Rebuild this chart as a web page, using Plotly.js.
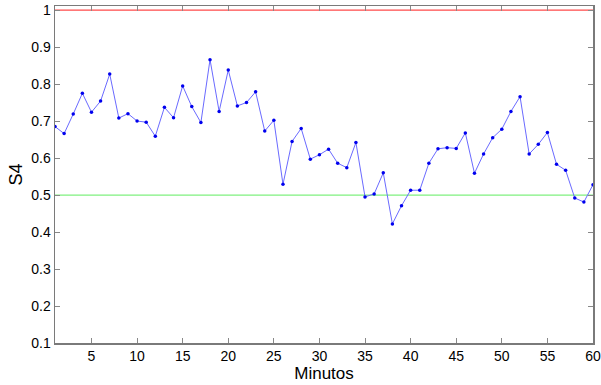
<!DOCTYPE html>
<html>
<head>
<meta charset="utf-8">
<script src="https://cdn.plot.ly/plotly-3.0.1.min.js"></script>
<style>
  html, body { margin: 0; padding: 0; background: #fff; }
  #chart { width: 601px; height: 385px; }
</style>
</head>
<body>
<div id="chart"></div>
<script>
// S4 scintillation index, one sample per minute
const minutos = [];
for (let m = 1; m <= 60; m++) minutos.push(m);

const s4 = [
  0.685, 0.666, 0.719, 0.775, 0.724, 0.754, 0.827, 0.708, 0.720, 0.700,
  0.697, 0.659, 0.737, 0.709, 0.795, 0.739, 0.696, 0.866, 0.726, 0.838,
  0.741, 0.750, 0.779, 0.673, 0.702, 0.529, 0.645, 0.680, 0.597, 0.609,
  0.624, 0.586, 0.574, 0.642, 0.495, 0.503, 0.560, 0.422, 0.471, 0.513,
  0.513, 0.586, 0.625, 0.628, 0.626, 0.668, 0.559, 0.611, 0.655, 0.678,
  0.726, 0.766, 0.611, 0.637, 0.669, 0.583, 0.567, 0.492, 0.481, 0.528
];

// reference thresholds
const limiteAlto = 1.0;
const limiteMedio = 0.5;

const xTicks = [5, 10, 15, 20, 25, 30, 35, 40, 45, 50, 55, 60];
const yTicks = [0.1, 0.2, 0.3, 0.4, 0.5, 0.6, 0.7, 0.8, 0.9, 1];
const yTickText = ['0.1', '0.2', '0.3', '0.4', '0.5', '0.6', '0.7', '0.8', '0.9', '1'];

const xMin = 1, xMax = 60;

const traces = [
  {
    x: [xMin, xMax], y: [limiteAlto, limiteAlto],
    mode: 'lines', line: { color: '#ff4a4a', width: 1.3 },
    hoverinfo: 'skip', showlegend: false
  },
  {
    x: [xMin, xMax], y: [limiteMedio, limiteMedio],
    mode: 'lines', line: { color: '#7ff07f', width: 1.3 },
    hoverinfo: 'skip', showlegend: false
  },
  {
    x: minutos, y: s4,
    mode: 'lines+markers',
    line: { color: '#6a6aff', width: 1 },
    marker: { color: '#0000ee', size: 3.5 },
    showlegend: false
  }
];

const font = { family: 'Arial, "Liberation Sans", sans-serif', color: '#000' };

const layout = {
  width: 601, height: 385,
  margin: { l: 55, r: 8, t: 6, b: 42 },
  paper_bgcolor: '#fff', plot_bgcolor: '#fff',
  font: Object.assign({ size: 14 }, font),
  xaxis: {
    range: [xMin, xMax],
    tickvals: xTicks,
    ticks: 'inside', ticklen: 5, tickcolor: '#888', tickwidth: 1,
    showline: true, linecolor: '#7a7a7a', linewidth: 1.5, mirror: 'ticks',
    showgrid: false, zeroline: false,
    tickfont: Object.assign({ size: 14 }, font),
    title: { text: 'Minutos', font: Object.assign({ size: 17 }, font), standoff: 2 }
  },
  yaxis: {
    range: [0.1, 1.011],
    tickvals: yTicks, ticktext: yTickText,
    ticks: 'inside', ticklen: 5, tickcolor: '#888', tickwidth: 1,
    showline: true, linecolor: '#7a7a7a', linewidth: 1.5, mirror: 'ticks',
    showgrid: false, zeroline: false,
    tickfont: Object.assign({ size: 14 }, font),
    title: { text: 'S4', font: Object.assign({ size: 18 }, font), standoff: 4 }
  }
};

Plotly.newPlot('chart', traces, layout, { displayModeBar: false, staticPlot: true });
</script>
</body>
</html>
